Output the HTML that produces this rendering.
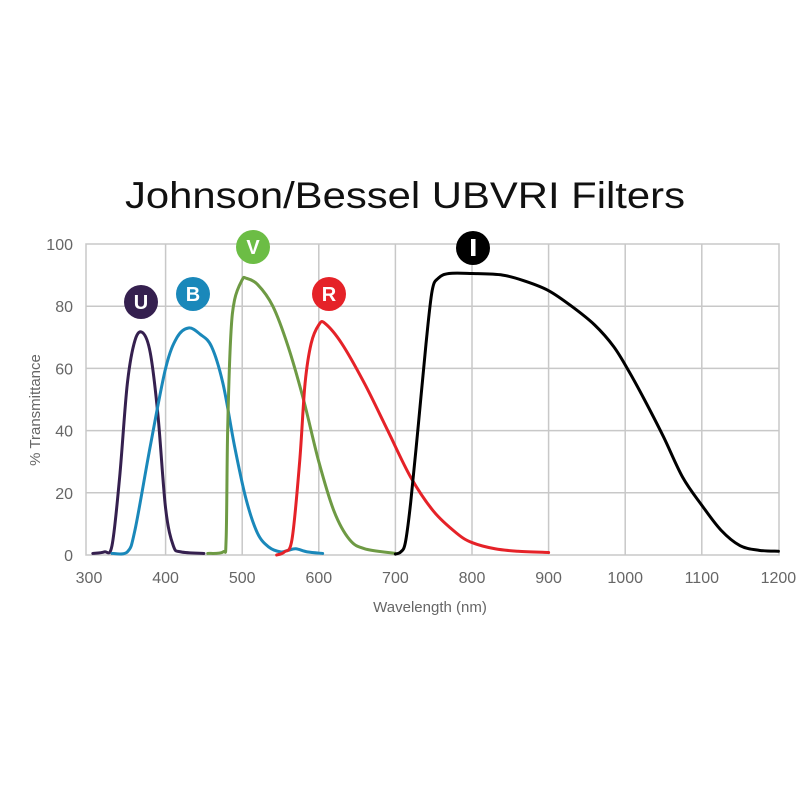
<!DOCTYPE html>
<html><head><meta charset="utf-8"><style>
html,body{margin:0;padding:0;background:#fff;}
svg{display:block;}
text{font-family:"Liberation Sans",sans-serif;}
</style></head><body>
<svg id="s" width="800" height="800" xmlns="http://www.w3.org/2000/svg">
<rect width="800" height="800" fill="#fff"/>
<text x="405" y="208" font-size="37" text-anchor="middle" fill="#111" textLength="560" lengthAdjust="spacingAndGlyphs">Johnson/Bessel UBVRI Filters</text>
<g id="grid" stroke="#c8c8c8" stroke-width="1.5" fill="none"></g>
<g id="lab" fill="#666" font-size="16"></g>
<text x="430" y="612" font-size="15" fill="#666" text-anchor="middle">Wavelength (nm)</text>
<text transform="translate(40,410) rotate(-90)" font-size="15" fill="#666" text-anchor="middle">% Transmittance</text>
<g id="curves" fill="none" stroke-width="3" stroke-linejoin="round" stroke-linecap="round"></g>
<g font-size="20" font-weight="bold" fill="#fff" text-anchor="middle">
<circle cx="141" cy="302" r="17" fill="#35204f"/><text x="141" y="309">U</text>
<circle cx="193" cy="294" r="17" fill="#1a88ba"/><text x="193" y="301">B</text>
<circle cx="253" cy="247" r="17" fill="#6cbd45"/><text x="253" y="254">V</text>
<circle cx="329" cy="294" r="17" fill="#e52228"/><text x="329" y="301">R</text>
<circle cx="473" cy="248" r="17" fill="#000"/><rect x="471" y="239" width="4.5" height="17" fill="#fff"/>
</g>
</svg>
<script>
var X=function(n){return 89+(n-300)*0.766;},Y=function(v){return 555-v*3.11;};
var ns="http://www.w3.org/2000/svg";
function el(p,t,a,txt){var e=document.createElementNS(ns,t);for(var k in a)e.setAttribute(k,a[k]);if(txt!=null)e.textContent=txt;document.getElementById(p).appendChild(e);}
el("grid","rect",{x:86,y:244,width:693,height:311});
for(var n=400;n<1200;n+=100)el("grid","line",{x1:X(n),x2:X(n),y1:244,y2:555});
for(var v=20;v<100;v+=20)el("grid","line",{x1:86,x2:779,y1:Y(v),y2:Y(v)});
for(var n=300;n<=1200;n+=100)el("lab","text",{x:X(n),y:583,"text-anchor":"middle"},n);
for(var v=0;v<=100;v+=20)el("lab","text",{x:73,y:Y(v)+6,"text-anchor":"end"},v);
function path(pts){var p=pts.map(function(a){return [X(a[0]),Y(a[1])];});var d="M"+p[0][0]+","+p[0][1];
for(var i=0;i<p.length-1;i++){var p0=p[i-1]||p[i],p1=p[i],p2=p[i+1],p3=p[i+2]||p2;
d+=" C"+(p1[0]+(p2[0]-p0[0])/6)+","+(p1[1]+(p2[1]-p0[1])/6)+" "+(p2[0]-(p3[0]-p1[0])/6)+","+(p2[1]-(p3[1]-p1[1])/6)+" "+p2[0]+","+p2[1];}return d;}
var S=[
["#35204f",[[305,0.5],[320,1],[330,3],[340,25],[350,55],[360,69],[370,71.5],[380,65],[390,45],[400,15],[410,3],[420,1],[450,0.5]]],
["#1a88ba",[[330,0.5],[350,1],[360,8],[380,35],[400,60],[415,70],[430,73],[445,71],[460,67],[475,55],[490,35],[505,18],[520,7],[535,2.5],[550,1],[560,1.5],[570,2],[585,1],[605,0.5]]],
["#6e9a44",[[455,0.5],[475,1],[479,5],[481,40],[485,70],[490,82],[500,88.5],[505,89],[520,87],[540,80],[560,67],[580,50],[600,30],[620,14],[640,5],[660,2],[700,0.5]]],
["#e52228",[[545,0],[555,1],[565,5],[575,30],[582,55],[590,68],[600,74],[608,74.5],[630,68],[660,55],[690,40],[720,25],[750,14],[780,7],[800,4],[830,2],[860,1.2],[900,0.8]]],
["#000",[[700,0.3],[707,1],[713,4],[720,17],[730,42],[740,68],[748,85],[756,89],[770,90.5],[800,90.5],[840,90],[870,88],[900,85],[930,80],[960,74],[985,67],[1005,59],[1025,50],[1050,38],[1075,25],[1100,16],[1125,8],[1150,3],[1175,1.5],[1200,1.2]]]];
S.forEach(function(s){el("curves","path",{d:path(s[1]),stroke:s[0]});});
</script>
</body></html>
